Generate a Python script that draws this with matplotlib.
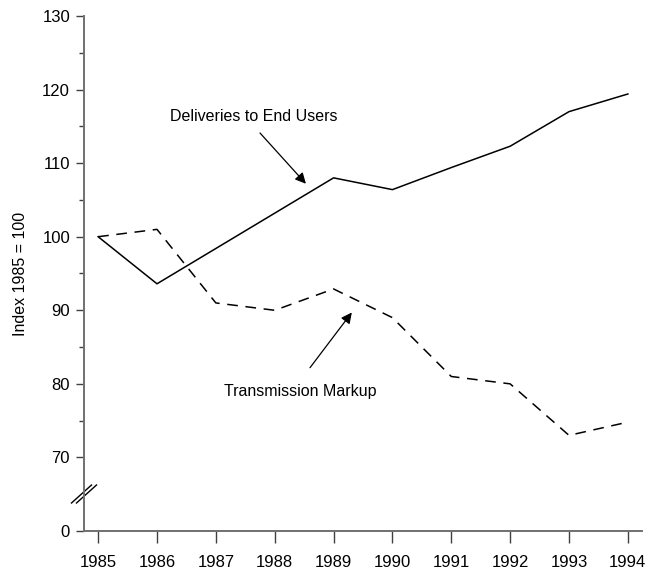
import numpy as np
import matplotlib.pyplot as plt

plt.rcParams['font.family'] = ['Liberation Sans', 'DejaVu Sans']

years = [1985, 1986, 1987, 1988, 1989, 1990, 1991, 1992, 1993, 1994]
deliveries = [100, 93.6, 98.4, 103.2, 108.0, 106.4, 109.4, 112.3, 117.0, 119.4]
markup = [100, 101, 91.0, 90.0, 92.9, 89.0, 81.0, 80.0, 73.0, 74.8]
ytick_vals = [60, 70, 80, 90, 100, 110, 120, 130]
ytick_labels = ['0', '70', '80', '90', '100', '110', '120', '130']

fig = plt.figure(figsize=(6.49, 5.73), dpi=100)
ax = fig.add_axes([84/649, 42/573, 558/649, 515/573])

ax.plot(years, deliveries, color='black', lw=1.1)
ax.plot(years, markup, color='black', lw=1.1, dashes=(7, 5))

ax.set_xlim(1984.76, 1994.24)
ax.set_ylim(60, 130)
ax.set_xticks(years)
ax.set_yticks(ytick_vals)
ax.set_yticklabels(ytick_labels)
ax.set_yticks([75, 85, 95, 105, 115, 125], minor=True)

for s in ['top', 'right']:
    ax.spines[s].set_visible(False)
for s in ['left', 'bottom']:
    ax.spines[s].set_color('#707070')
    ax.spines[s].set_linewidth(1.4)
ax.tick_params(which='major', length=6, width=1, color='#404040', labelsize=12, pad=4)
ax.tick_params(which='minor', length=3.5, width=1, color='#404040')
ax.tick_params(axis='x', length=8.5, pad=9)
ax.set_ylabel('Index 1985 = 100', fontsize=11.5, labelpad=10)

# axis break marks
yc = 37 / 515
for off in (-2.5, 2.5):
    ax.plot([(-10 + off) / 558, (10 + off) / 558], [yc - 9 / 515, yc + 9 / 515],
            transform=ax.transAxes, color='black', lw=1, clip_on=False)

ax.text(1987.65, 116.3, 'Deliveries to End Users', ha='center', va='center', fontsize=11.5)
ax.annotate('', xy=(1988.53, 107.2), xytext=(1987.75, 114.1),
            arrowprops=dict(arrowstyle='-|>', color='black', lw=0.9, mutation_scale=16,
                            shrinkA=0, shrinkB=0))
ax.text(1988.43, 79.0, 'Transmission Markup', ha='center', va='center', fontsize=11.5)
ax.annotate('', xy=(1989.31, 89.7), xytext=(1988.60, 82.2),
            arrowprops=dict(arrowstyle='-|>', color='black', lw=0.9, mutation_scale=16,
                            shrinkA=0, shrinkB=0))

fig.savefig('out.png', dpi=100)
